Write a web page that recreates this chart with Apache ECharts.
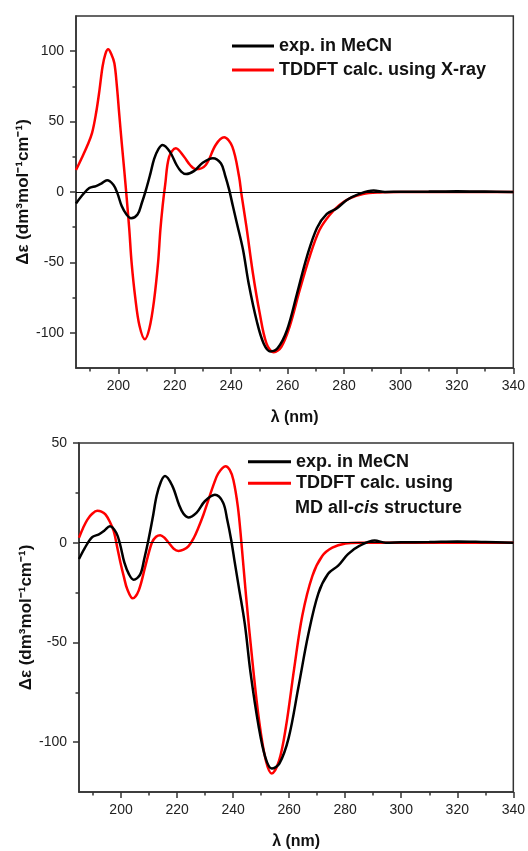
<!DOCTYPE html>
<html>
<head>
<meta charset="utf-8">
<script src="https://cdn.jsdelivr.net/npm/echarts@6/dist/echarts.min.js"></script>
<style>
  html, body { margin: 0; padding: 0; background: #fff; }
  #main { width: 528px; height: 851px; }
</style>
</head>
<body>
<div id="main"></div>
<script>
// experimental CD spectrum (same measurement in both panels), [lambda, delta eps]
var expData = [
  [185, -8.2], [187, -2.8], [189.7, 2.8], [192.1, 4.2], [194, 6], [196, 8.3], [198.3, 5],
  [199.7, -1], [201.2, -10], [202.9, -16], [204.5, -18.6], [206.8, -16], [208.3, -8],
  [209.8, 1.5], [211.3, 12.5], [212.7, 23.5], [214.2, 30.5], [215.7, 33.4], [218.3, 28.5],
  [220.7, 19], [222.3, 14.5], [224, 12.7], [226.9, 15], [229.9, 20.8], [233.5, 24],
  [236.4, 20.2], [237.9, 11.5], [239.3, 1.5], [240.6, -10], [242, -22], [244.2, -41],
  [246.2, -65], [249.1, -92], [251.5, -107.6], [253.8, -113.2], [256.5, -110.8],
  [259.8, -98], [263.3, -72.5], [266.8, -46.2], [270.4, -25.5], [273.9, -15.6],
  [277.5, -11.5], [281, -5.7], [285.2, -1.5], [290.5, 1.1], [294.5, 0], [300, 0.2],
  [310, 0.3], [320, 0.6], [330, 0.3], [340, 0]
];

// TDDFT calc. using X-ray structure
var xrayData = [
  [185, 15.6], [187, 24], [189.1, 33.4], [190.7, 42], [192.1, 55.9], [193.3, 72],
  [194.4, 89], [195.4, 98], [196.4, 101.3], [197.5, 98], [198.6, 91.4], [199.5, 75],
  [200.3, 55.9], [201.2, 35], [202.1, 15.6], [203, -5], [203.9, -27], [204.7, -50],
  [206, -75], [207.5, -95], [209.4, -104.6], [211, -97], [212.6, -78], [214.1, -50],
  [214.9, -27], [215.7, -10], [216.6, 5], [218, 25], [220.4, 31], [223.3, 25],
  [225.5, 19], [227.5, 16.1], [231, 19.2], [234.5, 33.4], [237.5, 38.8], [240.4, 32.2],
  [242.8, 10.9], [243.6, -1], [245.4, -24.6], [247.7, -57.7], [250.1, -86],
  [252.5, -107.5], [255.1, -113.9], [257.8, -109.9], [260.7, -95.7], [264.3, -69.6],
  [267.8, -46], [271.3, -27], [274.9, -16.3], [278.4, -9.2], [282, -4.5], [286.7, -1.4],
  [292.6, -0.3], [300, 0], [340, 0]
];

// TDDFT calc. using MD all-cis structure
var mdData = [
  [185, 2.5], [186.5, 7.5], [188, 11.6], [189.7, 14.5], [191.5, 16], [193, 15.6],
  [194.5, 14.1], [196, 10.5], [197.4, 5.8], [198.6, -2], [199.8, -10], [201, -17],
  [202.2, -23.2], [204.2, -27.9], [206.3, -24], [208.7, -11.6], [211, 0], [212.5, 3],
  [214, 3.8], [215.5, 2.5], [217, 0], [218.8, -3], [220.5, -4.1], [222.3, -3.5],
  [224.1, -1.7], [226, 2.5], [227.6, 7.5], [229.4, 14], [231.2, 21.5], [233, 29],
  [234.7, 34.8], [237.3, 38.4], [238.8, 36.5], [240.1, 31.5], [241.7, 18], [242.9, 1],
  [244.6, -26.5], [246.9, -59.6], [249.3, -89.5], [251.7, -109.3], [253.8, -115.7],
  [256.4, -109.3], [258.8, -92.8], [261.8, -63], [264.7, -36.5], [268.3, -16.6],
  [271.8, -6.7], [275.4, -2.5], [280.1, -0.4], [285, 0], [340, 0]
];

// tick values
var xMajor = [200, 220, 240, 260, 280, 300, 320, 340];
var xMinor = [190, 210, 230, 250, 270, 290, 310, 330];
var yTopMajor = [-100, -50, 0, 50, 100];
var yTopMinor = [-75, -25, 25, 75];
var yBotMajor = [-100, -50, 0, 50];
var yBotMinor = [-75, -25, 25];

var font = "'Liberation Sans', Arial, sans-serif";
var expName = 'exp. in MeCN';
var xrayName = 'TDDFT calc. using X-ray';
var mdName = 'TDDFT calc. using MD all-cis structure';
var yName = 'Δε (dm³mol⁻¹cm⁻¹)';

function mainX(grid) {
  return {
    type: 'value', gridIndex: grid, min: 185, max: 340, position: 'bottom',
    name: 'λ (nm)', nameLocation: 'middle', nameGap: 42, nameMoveOverlap: false,
    nameTextStyle: { fontFamily: font, fontSize: 16, fontWeight: 'bold', color: '#111' },
    axisLine: { onZero: false, lineStyle: { color: '#333', width: 1.5 } },
    axisTick: { customValues: xMajor, length: 6, lineStyle: { color: '#333', width: 1.5 } },
    axisLabel: { customValues: xMajor, margin: 11, fontFamily: font, fontSize: 14, color: '#222' },
    splitLine: { show: false }
  };
}
function minorX(grid) {
  return {
    type: 'value', gridIndex: grid, min: 185, max: 340, position: 'bottom',
    axisLine: { show: false, onZero: false },
    axisTick: { customValues: xMinor, length: 3.5, lineStyle: { color: '#333', width: 1.5 } },
    axisLabel: { show: false },
    splitLine: { show: false }
  };
}
function mainY(grid, min, max, ticks, gap) {
  return {
    type: 'value', gridIndex: grid, min: min, max: max, position: 'left',
    name: yName, nameLocation: 'middle', nameGap: gap, nameMoveOverlap: false,
    nameTextStyle: { fontFamily: font, fontSize: 17, fontWeight: 'bold', color: '#111' },
    axisLine: { show: true, onZero: false, lineStyle: { color: '#333', width: 1.5 } },
    axisTick: { show: true, customValues: ticks, length: 6, lineStyle: { color: '#333', width: 1.5 } },
    axisLabel: { customValues: ticks, margin: 12, fontFamily: font, fontSize: 14, color: '#222' },
    splitLine: { show: false }
  };
}
function minorY(grid, min, max, ticks) {
  return {
    type: 'value', gridIndex: grid, min: min, max: max, position: 'left',
    axisLine: { show: false, onZero: false },
    axisTick: { show: true, customValues: ticks, length: 3.5, lineStyle: { color: '#333', width: 1.5 } },
    axisLabel: { show: false },
    splitLine: { show: false }
  };
}
function curve(name, data, color, ax, zero) {
  var s = {
    name: name, type: 'line', data: data,
    xAxisIndex: ax, yAxisIndex: ax,
    smooth: 0.35, showSymbol: false, symbol: 'none',
    lineStyle: { color: color, width: 2.5 },
    itemStyle: { color: color },
    z: color === '#ff0000' ? 3 : 4
  };
  if (zero) {
    s.markLine = {
      silent: true, symbol: 'none', label: { show: false },
      lineStyle: { color: '#000', width: 1, type: 'solid' },
      data: [{ yAxis: 0 }]
    };
  }
  return s;
}

var chart = echarts.init(document.getElementById('main'));
var legendText = { fontFamily: font, fontSize: 18, fontWeight: 'bold', color: '#111' };

var option = {
  animation: false,
  grid: [
    { left: 76, top: 16, right: 14, height: 352, show: true, borderColor: '#333', borderWidth: 1.5 },
    { left: 79, top: 443, right: 13, height: 351, show: true, borderColor: '#333', borderWidth: 1.5 }
  ],
  xAxis: [mainX(0), minorX(0), mainX(1), minorX(1)],
  yAxis: [
    mainY(0, -125, 125, yTopMajor, 44), minorY(0, -125, 125, yTopMinor),
    mainY(1, -125, 50, yBotMajor, 44), minorY(1, -125, 50, yBotMinor)
  ],
  legend: [
    {
      data: [expName, xrayName], orient: 'vertical', left: 227, top: 29,
      icon: 'rect', itemWidth: 42, itemHeight: 3, itemGap: 0,
      selectedMode: false,
      textStyle: Object.assign({ lineHeight: 24 }, legendText)
    },
    {
      data: [expName, mdName], orient: 'vertical', left: 243, top: 446,
      icon: 'rect', itemWidth: 43, itemHeight: 3, itemGap: 0,
      selectedMode: false,
      formatter: function (n) { return n === mdName ? 'TDDFT calc. using' : n; },
      textStyle: Object.assign({ lineHeight: 21.5 }, legendText)
    }
  ],
  graphic: [{
    type: 'text', left: 295, top: 499,
    style: {
      text: '{n|MD all-}{i|cis}{n| structure}',
      rich: {
        n: { fontFamily: font, fontSize: 18, fontWeight: 'bold', fill: '#111' },
        i: { fontFamily: font, fontSize: 18, fontWeight: 'bold', fontStyle: 'italic', fill: '#111' }
      }
    }
  }],
  series: [
    curve(expName, expData, '#000000', 0, true),
    curve(xrayName, xrayData, '#ff0000', 0, false),
    curve(expName, expData, '#000000', 2, true),
    curve(mdName, mdData, '#ff0000', 2, false)
  ]
};
chart.setOption(option);
</script>
</body>
</html>
